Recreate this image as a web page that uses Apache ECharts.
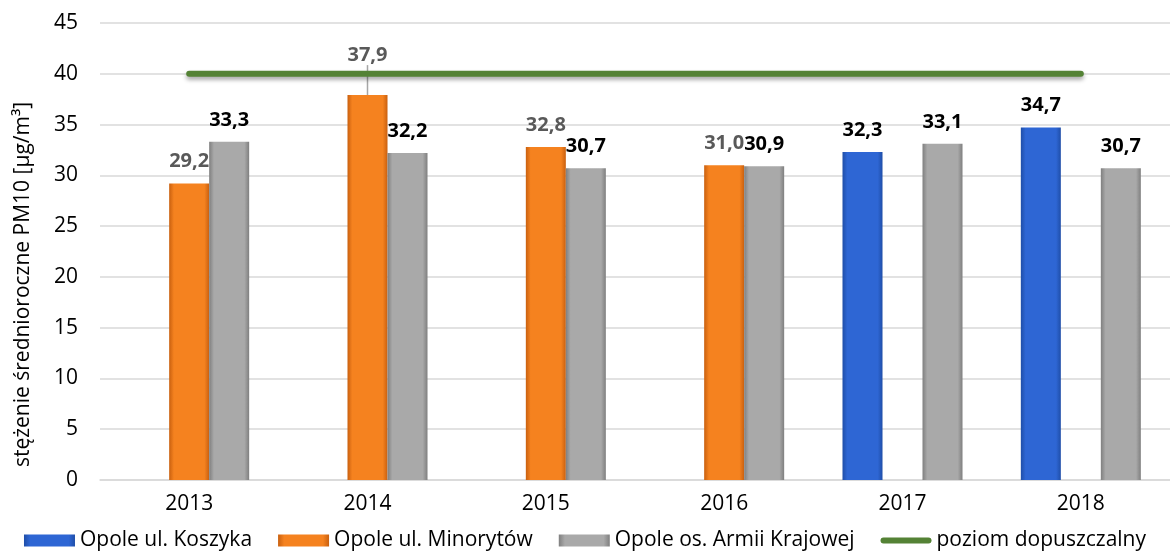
<!DOCTYPE html>
<html>
<head>
<meta charset="utf-8">
<script src="https://cdn.jsdelivr.net/npm/echarts@6/dist/echarts.min.js"></script>
<style>
  html, body { margin: 0; padding: 0; background: #fff; }
  #chart { width: 1170px; height: 558px; }
</style>
</head>
<body>
<div id="chart"></div>
<script>
  var years = ['2013', '2014', '2015', '2016', '2017', '2018'];
  var koszyka = [null, null, null, null, 32.3, 34.7];
  var minorytow = [29.2, 37.9, 32.8, 31.0, null, null];
  var armiiKrajowej = [33.3, 32.2, 30.7, 30.9, 33.1, 30.7];
  var limitLevel = [40, 40, 40, 40, 40, 40];

  var font = 'Open Sans';

  function bevel(edge, mid) {
    return new echarts.graphic.LinearGradient(0, 0, 1, 0, [
      { offset: 0, color: edge },
      { offset: 0.12, color: mid },
      { offset: 0.88, color: mid },
      { offset: 1, color: edge }
    ]);
  }

  function fmt(p) {
    return p.value == null ? '' : p.value.toFixed(1).replace('.', ',');
  }

  // label of 2014 sits above the limit line, joined by a leader line
  var minorytowData = minorytow.map(function (v, i) {
    if (i !== 1) return v;
    return { value: v, labelLine: { show: true, lineStyle: { color: '#a6a6a6', width: 1.5 } } };
  });

  var chart = echarts.init(document.getElementById('chart'));

  var option = {
    animation: false,
    textStyle: { fontFamily: font },
    grid: {
      left: 100,
      top: 23,
      width: 1080,
      bottom: 78,
      containLabel: false
    },
    legend: {
      left: 'center',
      bottom: 2,
      itemWidth: 51,
      itemHeight: 12,
      itemGap: 26,
      textStyle: { fontFamily: font, fontSize: 21, color: '#000', padding: [0, 0, 0, 0] },
      data: [
        { name: 'Opole ul. Koszyka', icon: 'rect' },
        { name: 'Opole ul. Minorytów', icon: 'rect' },
        { name: 'Opole os. Armii Krajowej', icon: 'rect' },
        { name: 'poziom dopuszczalny', icon: 'path://M3,0 L48,0 A3,3 0 0 1 48,6 L3,6 A3,3 0 0 1 3,0 Z' }
      ]
    },
    xAxis: {
      type: 'category',
      data: years,
      axisTick: { show: false },
      axisLine: { lineStyle: { color: '#d9d9d9', width: 1.5 } },
      axisLabel: { fontFamily: font, fontSize: 21, color: '#000', margin: 14 }
    },
    yAxis: {
      type: 'value',
      min: 0,
      max: 45,
      interval: 5,
      name: 'stężenie średnioroczne PM10 [µg/m³]',
      nameLocation: 'middle',
      nameGap: 66,
      nameTextStyle: { fontFamily: font, fontSize: 21, color: '#000', padding: [0, 66, 0, 0] },
      axisLine: { show: false },
      axisTick: { show: false },
      axisLabel: { fontFamily: font, fontSize: 21, color: '#000', margin: 22 },
      splitLine: { lineStyle: { color: '#d9d9d9', width: 1.5 } }
    },
    series: [
      {
        name: 'Opole ul. Koszyka',
        type: 'bar',
        barWidth: 40,
        barGap: '0%',
        data: koszyka,
        itemStyle: { color: bevel('#1f4ea8', '#2e66d4') },
        label: {
          show: true, position: 'top', distance: 12, formatter: fmt,
          fontFamily: font, fontSize: 20, fontWeight: 'bold', color: '#000'
        }
      },
      {
        name: 'Opole ul. Minorytów',
        type: 'bar',
        barWidth: 40,
        barGap: '0%',
        data: minorytowData,
        itemStyle: { color: bevel('#c9600f', '#f5821f') },
        label: {
          show: true, position: 'top', distance: 12, formatter: fmt,
          fontFamily: font, fontSize: 20, fontWeight: 'bold', color: '#595959'
        },
        labelLayout: function (p) {
          return p.dataIndex === 1 ? { dy: -18 } : {};
        }
      },
      {
        name: 'Opole os. Armii Krajowej',
        type: 'bar',
        barWidth: 40,
        barGap: '0%',
        data: armiiKrajowej,
        itemStyle: { color: bevel('#7f7f7f', '#a9a9a9') },
        label: {
          show: true, position: 'top', distance: 12, formatter: fmt,
          fontFamily: font, fontSize: 20, fontWeight: 'bold', color: '#000'
        }
      },
      {
        name: 'poziom dopuszczalny',
        type: 'line',
        data: limitLevel,
        symbol: 'none',
        z: 5,
        itemStyle: { color: '#548235' },
        lineStyle: {
          color: '#548235',
          width: 6,
          cap: 'round',
          shadowColor: 'rgba(0,0,0,0.35)',
          shadowBlur: 4,
          shadowOffsetY: 3
        }
      }
    ]
  };

  chart.setOption(option);
</script>
</body>
</html>
